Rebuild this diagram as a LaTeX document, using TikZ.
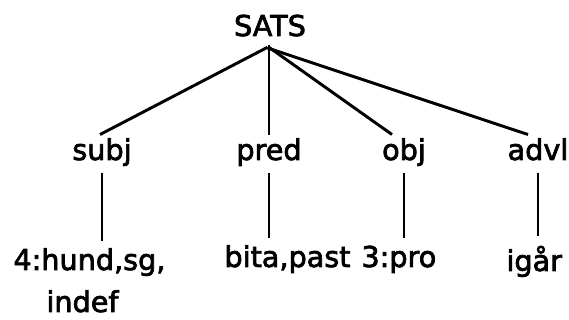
\documentclass[tikz,border=0pt]{standalone}
\usepackage{fontspec}
\setmainfont{DejaVu Sans}[FakeBold=2.5]

\tikzset{every picture/.style={line width=2.2pt}}
\tikzset{lbl/.style={inner xsep=0pt,inner ysep=6pt,text height=12pt,text depth=3pt,font=\fontsize{21.5}{26}\selectfont}}

\begin{document}
\begin{tikzpicture}[x=0.75pt,y=0.75pt,yscale=-1,xscale=1]
	\useasboundingbox (0,0) rectangle (569,320);

	% Text Node: root
	\node [lbl,anchor=base] (sats) at (270,36) {SATS};
	% Text Node: functions
	\node [lbl,anchor=base] (subj) at (102,160) {subj};
	\node [lbl,anchor=base] (pred) at (269,160) {pred};
	\node [lbl,anchor=base] (obj) at (404,160) {obj};
	\node [lbl,anchor=base] (advl) at (538,160) {advl};
	% Text Node: fillers
	\node [lbl,anchor=base west] (hund) at (12,270) {4:hund,sg,};
	\node [lbl,anchor=base west] (indef) at (45,312) {indef};
	\node [lbl,anchor=base west] (bita) at (223,267) {bita,past};
	\node [lbl,anchor=base west] (pro) at (360,267) {3:pro};
	\node [lbl,anchor=base west] (igar) at (505,271) {igår};

	%Straight Lines: root to functions
	\draw [shorten <=-3.5pt] ([xshift=-5]sats.south) -- ([xshift=-1.5]subj.north) ;
	\draw [shorten <=-3.5pt] ([xshift=-0.75]sats.south) -- (pred.north) ;
	\draw [shorten <=-3.5pt] ([xshift=1.5]sats.south) -- ([xshift=-9]obj.north) ;
	\draw [shorten <=-3.5pt] ([xshift=1.5]sats.south) -- ([xshift=-7.5]advl.north) ;
	%Straight Lines: functions to fillers
	\draw [shorten >=3pt] (subj.south) -- (subj.south |- hund.north) ;
	\draw [shorten >=3pt] (pred.south) -- (pred.south |- bita.north) ;
	\draw [shorten >=3pt] (obj.south) -- (obj.south |- pro.north) ;
	\draw [shorten >=7pt] (advl.south) -- (advl.south |- igar.north) ;

\end{tikzpicture}
\end{document}
